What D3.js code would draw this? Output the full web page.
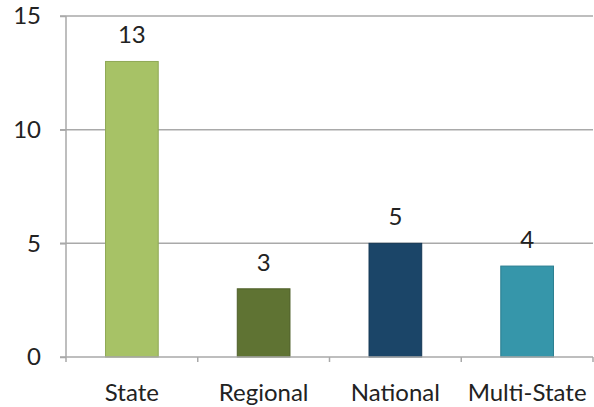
<!DOCTYPE html>
<html><head><meta charset="utf-8">
<script src="https://cdn.jsdelivr.net/npm/d3@7"></script>
<style>html,body{margin:0;padding:0;background:#fff;}svg{display:block;}</style>
</head><body>
<svg id="chart" width="594" height="407"></svg>
<script>
const categories = ["State", "Regional", "National", "Multi-State"];
const values = [13, 3, 5, 4];
const barColors = ["#a7c266", "#5f7333", "#1b4568", "#3696aa"];
const borderColors = ["#8fa955", "#4e5f29", "#143754", "#2b7e90"];
const yTicks = [0, 5, 10, 15];

const svg = d3.select("#chart");
const margin = {left: 66, right: 1, top: 16, bottom: 50};
const W = 594, H = 407;
const x = d3.scaleBand().domain(categories).range([margin.left, W - margin.right]).paddingInner(0.6).paddingOuter(0.3);
const y = d3.scaleLinear().domain([0, 15]).range([H - margin.bottom, margin.top]);
const font = "Lato, 'Open Sans', sans-serif";
const fs = 24;

// gridlines
svg.append("g").selectAll("line").data(yTicks.filter(d => d > 0)).join("line")
  .attr("x1", margin.left - 6).attr("x2", W - margin.right)
  .attr("y1", d => y(d)).attr("y2", d => y(d))
  .attr("stroke", "#a9a9a9").attr("stroke-width", 1.5);

// bars
svg.append("g").selectAll("rect").data(values).join("rect")
  .attr("x", (d, i) => x(categories[i]))
  .attr("y", d => y(d))
  .attr("width", x.bandwidth())
  .attr("height", d => y(0) - y(d))
  .attr("fill", (d, i) => barColors[i])
  .attr("stroke", (d, i) => borderColors[i])
  .attr("stroke-width", 1);

// y axis
const yAxis = d3.axisLeft(y).tickValues(yTicks).tickSize(6).tickPadding(19);
const gy = svg.append("g").attr("transform", `translate(${margin.left},0)`).call(yAxis);
gy.select(".domain").attr("stroke", "#a9a9a9").attr("stroke-width", 1.5).attr("d", `M0,${y(0)}V${y(15)}`);
gy.selectAll(".tick line").attr("stroke", "#a9a9a9").attr("stroke-width", 1.5);
gy.selectAll(".tick text").attr("font-family", font).attr("font-size", fs).attr("fill", "#222");

// x axis
const step = x.step();
const gx = svg.append("g").attr("transform", `translate(0,${y(0)})`);
gx.append("line").attr("x1", margin.left - 6).attr("x2", W - margin.right).attr("y1", 0).attr("y2", 0)
  .attr("stroke", "#a9a9a9").attr("stroke-width", 1.5);
gx.selectAll("line.t").data(d3.range(categories.length + 1)).join("line").attr("class", "t")
  .attr("x1", i => margin.left + i * step).attr("x2", i => margin.left + i * step)
  .attr("y1", 0).attr("y2", 5).attr("stroke", "#a9a9a9").attr("stroke-width", 1.5);
gx.selectAll("text").data(categories).join("text")
  .attr("x", d => x(d) + x.bandwidth() / 2).attr("y", 44)
  .attr("text-anchor", "middle").attr("font-family", font).attr("font-size", fs).attr("fill", "#222")
  .text(d => d);

// value labels
svg.append("g").selectAll("text").data(values).join("text")
  .attr("x", (d, i) => x(categories[i]) + x.bandwidth() / 2)
  .attr("y", d => y(d) - 18)
  .attr("text-anchor", "middle").attr("font-family", font).attr("font-size", fs).attr("fill", "#222")
  .text(d => d);
</script>
</body></html>
